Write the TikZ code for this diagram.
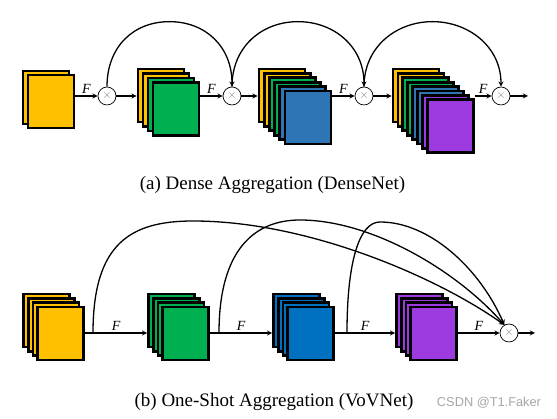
\documentclass[tikz,border=0pt]{standalone}
\usepackage{fontspec}
\setmainfont{Liberation Serif}
\newfontfamily\wmfont{Liberation Sans}
\usetikzlibrary{arrows, calc}

\definecolor{gold}{HTML}{FFC000}
\definecolor{grn}{HTML}{00B050}
\definecolor{blueA}{HTML}{2E75B6}
\definecolor{blueB}{HTML}{0070C0}
\definecolor{purp}{HTML}{9D3AE0}

\begin{document}
\begin{tikzpicture}[x=1pt, y=1pt, >=stealth,
sheet/.style={draw, line width=2.7pt, minimum width=46pt, minimum height=53pt, inner sep=0pt},
mult/.style={circle, draw, line width=0.7pt, minimum size=18pt, inner sep=0pt, text=gray, font=\fontsize{13}{13}\selectfont},
lab/.style={above, inner sep=1.5pt, font=\fontsize{14}{14}\selectfont\itshape},
conn/.style={line width=1.3pt},
capt/.style={font=\fontsize{19}{22}\selectfont}]
\useasboundingbox (0,0) rectangle (557,419);

% (a) dense aggregation
\foreach \c [count=\i from 0] in {gold,gold}
  \node [sheet, fill=\c] (a1-\i) at (46+5*\i, 321.5-4*\i) {};
\foreach \c [count=\i from 0] in {gold,gold,grn,grn}
  \node [sheet, fill=\c] (a2-\i) at (161+5*\i, 323.5-4.5*\i) {};
\foreach \c [count=\i from 0] in {gold,gold,grn,grn,blueA,blueA}
  \node [sheet, fill=\c] (a3-\i) at (282+5.2*\i, 323.5-4.4*\i) {};
\foreach \c [count=\i from 0] in {gold,gold,grn,grn,blueA,blueA,purp,purp}
  \node [sheet, fill=\c] (a4-\i) at (416+4.9*\i, 323.5-4.4*\i) {};

\node [mult] (m1) at (107,323) {$\times$};
\node [mult] (m2) at (232,323) {$\times$};
\node [mult] (m3) at (364,323) {$\times$};
\node [mult] (m4) at (501,323) {$\times$};
\coordinate (aout) at (528,323);

\draw[conn, ->] (a1-1.east |- m1) -- node[lab]{F} (m1);
\draw[conn, ->] (m1) -- (m1 -| a2-0.west);
\draw[conn, ->] (a2-3.east |- m2) -- node[lab]{F} (m2);
\draw[conn, ->] (m2) -- (m2 -| a3-0.west);
\draw[conn, ->] (a3-5.east |- m3) -- node[lab]{F} (m3);
\draw[conn, ->] (m3) -- (m3 -| a4-0.west);
\draw[conn, ->] (a4-7.east |- m4) -- node[lab]{F} (m4);
\draw[conn, ->] (m4) -- (aout);

% skip arcs, half ellipses over the circles
\foreach \p/\q in {m1/m2, m2/m3, m3/m4}
  \draw[conn, ->] (\p.north) .. controls +(0,40) and +(-36,0) .. ($(\p.north)!0.5!(\q.north)+(0,65)$)
    .. controls +(36,0) and +(0,40) .. (\q.north);

\node [capt] (capa) at (272.5,234) {(a) Dense Aggregation (DenseNet)};

% (b) one-shot aggregation
\foreach \i in {0,...,3}
  \node [sheet, fill=gold] (b1-\i) at (46.5+4.7*\i, 98.5-4.3*\i) {};
\foreach \i in {0,...,3}
  \node [sheet, fill=grn] (b2-\i) at (171.5+4.7*\i, 98.5-4.3*\i) {};
\foreach \i in {0,...,3}
  \node [sheet, fill=blueB] (b3-\i) at (296.5+4.7*\i, 98.5-4.3*\i) {};
\foreach \i in {0,...,3}
  \node [sheet, fill=purp] (b4-\i) at (419.5+4.7*\i, 98.5-4.3*\i) {};

\node [mult] (m5) at (509,86) {$\times$};
\coordinate (bout) at (535,86);
\coordinate (s1) at (93,86);
\coordinate (s2) at (219,86);
\coordinate (s3) at (347,86);

\draw[conn, ->] (b1-3.east |- m5) -- node[lab]{F} (b2-0.west |- m5);
\draw[conn, ->] (b2-3.east |- m5) -- node[lab]{F} (b3-0.west |- m5);
\draw[conn, ->] (b3-3.east |- m5) -- node[lab]{F} (b4-0.west |- m5);
\draw[conn, ->] (b4-3.east |- m5) -- node[lab]{F} (m5);
\draw[conn, ->] (m5) -- (bout);

% one-shot links into the last circle
\draw[conn, ->] (s1) .. controls (93,175) and (130,198) .. (193,198)
  .. controls (310,198) and (440,140) .. (m5.120);
\draw[conn, ->] (s2) .. controls (219,170) and (255,199) .. (300,199)
  .. controls (370,199) and (455,150) .. (m5.120);
\draw[conn, ->] (s3) .. controls (347,160) and (360,197) .. (380,197)
  .. controls (430,197) and (480,150) .. (m5.120);

\node [capt] (capb) at (274,17) {(b) One-Shot Aggregation (VoVNet)};
\node [font=\wmfont\fontsize{12.8}{14}\selectfont, text=gray!70] (wm) at (489,16) {CSDN @T1.Faker};
\end{tikzpicture}
\end{document}
